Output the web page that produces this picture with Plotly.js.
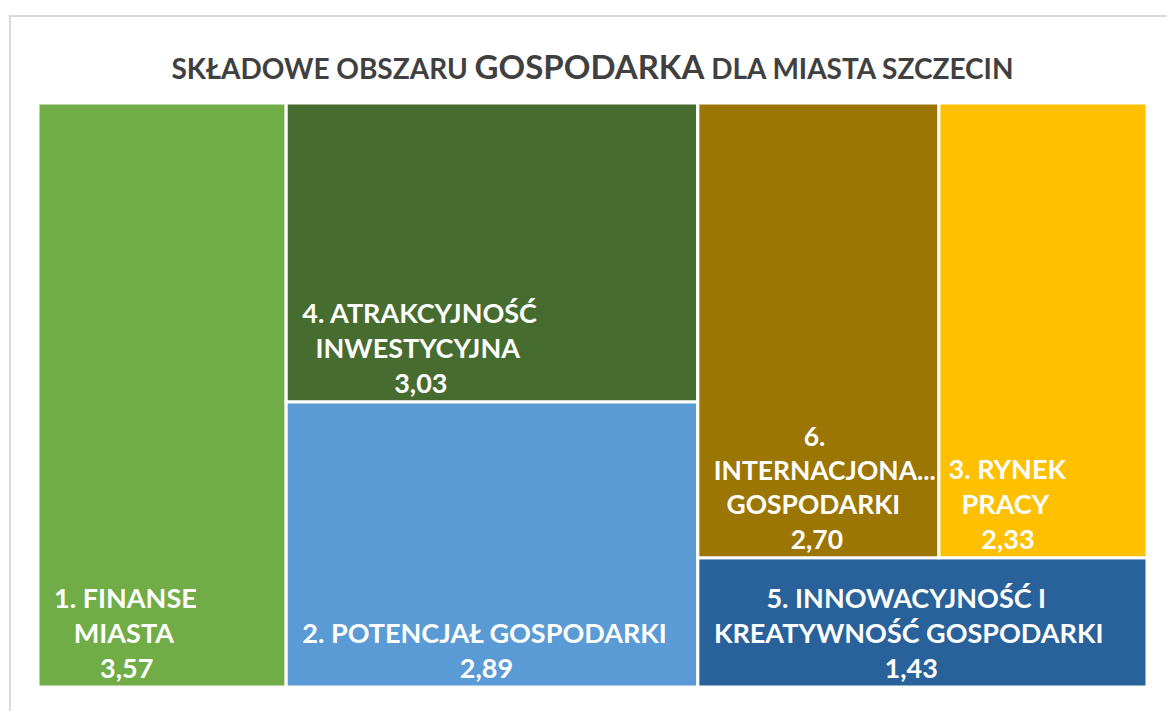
<!DOCTYPE html>
<html>
<head>
<meta charset="utf-8">
<script src="https://cdn.plot.ly/plotly-3.0.1.min.js"></script>
<style>html,body{margin:0;padding:0;background:#fff;}#chart{width:1167px;height:711px;}</style>
</head>
<body>
<div id="chart"></div>
<script>
// Leaf categories (visible label lines) and their values
const categories = [
  ["1. FINANSE", "MIASTA"],
  ["4. ATRAKCYJNOŚĆ", "INWESTYCYJNA"],
  ["2. POTENCJAŁ GOSPODARKI"],
  ["6.", "INTERNACJONA...", "GOSPODARKI"],
  ["3. RYNEK", "PRACY"],
  ["5. INNOWACYJNOŚĆ I", "KREATYWNOŚĆ GOSPODARKI"]
];
const values = [3.57, 3.03, 2.89, 2.70, 2.33, 1.43];
const valueLabels = ["3,57", "3,03", "2,89", "2,70", "2,33", "1,43"];
const colors = ["#70AD47", "#476C2F", "#5B9BD5", "#9C7604", "#FFC000", "#29629A"];
// leading spaces per line (label lines + value line) to centre lines like the original
const indents = [
  [2, 5, 9],
  [2, 4, 16],
  [2, 26],
  [16, 2, 4, 14],
  [1, 3, 6],
  [10, 2, 28]
];
// grouping used only to reproduce the tile arrangement
const leafIds = ["fin", "atr", "pot", "int", "ryn", "inn"];
const leafParents = ["root", "gA", "gA", "gC", "gC", "gB"];

const NB = "\u00A0";
const leafText = (i) => categories[i].concat([valueLabels[i]])
  .map((line, j) => NB.repeat(indents[i][j]) + line).join("<br>");

const ids = [], parents = [], vals = [], texts = [], cols = [];
function addGroup(id, parent, v) { ids.push(id); parents.push(parent); vals.push(v); texts.push(""); cols.push("#ffffff"); }
function addLeaf(k) {
  const i = leafIds.indexOf(k);
  ids.push(k); parents.push(leafParents[i]); vals.push(values[i]); texts.push(leafText(i)); cols.push(colors[i]);
}
const v = (k) => values[leafIds.indexOf(k)];
const vA = v("atr") + v("pot");
const vC = v("int") + v("ryn");
const vB = vC + v("inn");
addGroup("root", "", v("fin") + vA + vB);
addLeaf("fin");
addGroup("gA", "root", vA); addLeaf("atr"); addLeaf("pot");
addGroup("gB", "root", vB);
addGroup("gC", "gB", vC); addLeaf("int"); addLeaf("ryn");
addLeaf("inn");

const font = {family: "Lato, 'Open Sans', sans-serif", size: 27, color: "#ffffff", weight: "bold"};
const trace = {
  type: "treemap",
  ids: ids,
  labels: ids,
  parents: parents,
  values: vals,
  branchvalues: "total",
  sort: false,
  text: texts,
  texttemplate: "%{text}",
  textposition: "bottom left",
  textfont: font,
  insidetextfont: font,
  marker: {colors: cols, line: {width: 3, color: "#ffffff"}, pad: {t: 0, l: 0, r: 0, b: 0}},
  tiling: {packing: "slice-dice", pad: 0},
  pathbar: {visible: false},
  hoverinfo: "none"
};

const layout = {
  width: 1167, height: 711,
  paper_bgcolor: "#ffffff",
  margin: {l: 38, r: 20, t: 103, b: 24},
  title: {
    text: "SKŁADOWE OBSZARU <span style='font-size:33px'>GOSPODARKA</span> DLA MIASTA SZCZECIN",
    font: {family: "Lato, 'Open Sans', sans-serif", size: 28, color: "#404040", weight: "bold"},
    x: 0.5, xref: "paper", xanchor: "center",
    y: 0.903, yref: "container", yanchor: "middle"
  },
  shapes: [{
    type: "rect", xref: "paper", yref: "paper",
    x0: -0.0253, x1: 1.1, y0: 1.149, y1: -0.2,
    line: {color: "#d9d9d9", width: 2}, fillcolor: "rgba(0,0,0,0)"
  }],
  showlegend: false
};

Plotly.newPlot("chart", [trace], layout, {displayModeBar: false, staticPlot: true});
</script>
</body>
</html>
